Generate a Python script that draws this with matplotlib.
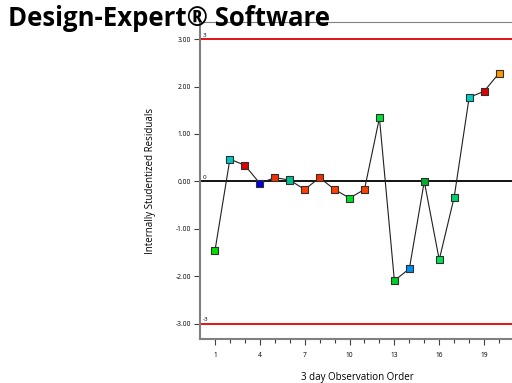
import matplotlib
matplotlib.use("Agg")
import matplotlib.pyplot as plt
from matplotlib.ticker import FixedLocator

plt.rcParams['font.family'] = ['Open Sans', 'DejaVu Sans']

run_order = list(range(1, 21))
residuals = [-1.46, 0.47, 0.34, -0.04, 0.08, 0.03, -0.17, 0.08, -0.17, -0.35,
             -0.17, 1.34, -2.09, -1.84, 0.00, -1.65, -0.33, 1.77, 1.90, 2.28]
colors = ['#00e000', '#00c8c0', '#e00000', '#0000e0', '#f03000', '#00c090',
          '#ff4000', '#f03000', '#ff4000', '#00e020', '#ff4000', '#00e030',
          '#00d020', '#0090f0', '#00b030', '#00e050', '#00d070', '#00d0c0',
          '#e00000', '#ff9900']
limit = 3.0
y_ticks = [-3, -2, -1, 0, 1, 2, 3]
x_ticks = [1, 4, 7, 10, 13, 16, 19]

fig = plt.figure(figsize=(5.12, 3.83), dpi=100)
ax = fig.add_axes([200/512, 1 - 339/383, 314/512, (339 - 22)/383])

ax.axhline(limit, color='#e00000', lw=1.3, zorder=1)
ax.axhline(-limit, color='#e00000', lw=1.3, zorder=1)
ax.axhline(0, color='black', lw=1.3, zorder=1)
ax.text(0.2, limit + 0.03, '3', fontsize=4.5, ha='left', va='bottom')
ax.text(0.2, -limit + 0.03, '-3', fontsize=4.5, ha='left', va='bottom')
ax.text(0.2, 0.03, '0', fontsize=4.5, ha='left', va='bottom')

ax.plot(run_order, residuals, color='#202020', lw=0.8, zorder=2)
ax.scatter(run_order, residuals, c=colors, marker='s', s=26,
           edgecolors='#303030', linewidths=0.8, zorder=3)

ax.set_xlim(0, 21)
ax.set_ylim(-3.32, 3.36)
ax.yaxis.set_major_locator(FixedLocator(y_ticks))
ax.set_yticklabels([f'{v:.2f}' for v in y_ticks])
ax.xaxis.set_major_locator(FixedLocator(x_ticks))
ax.xaxis.set_minor_locator(FixedLocator([v for v in run_order if v not in x_ticks]))
ax.tick_params(axis='both', labelsize=4.8, color='#404040', width=0.8, length=4.5, pad=2)
ax.tick_params(axis='x', which='minor', length=3, width=0.8, color='#404040')
ax.tick_params(axis='x', pad=5)

for s in ['left', 'bottom']:
    ax.spines[s].set_color('#808080')
    ax.spines[s].set_linewidth(1.5)
ax.spines['top'].set_color('#808080')
ax.spines['top'].set_linewidth(0.8)
ax.spines['right'].set_visible(False)

ax.set_xlabel('3 day Observation Order', fontsize=7, labelpad=9)
ax.set_ylabel('Internally Studentized Residuals', fontsize=7, labelpad=14)

fig.text(8/512, 1 - 19/383, 'Design-Expert® Software', fontsize=18.5, fontweight='bold',
         ha='left', va='center', zorder=10)

fig.savefig('out.png', dpi=100)
